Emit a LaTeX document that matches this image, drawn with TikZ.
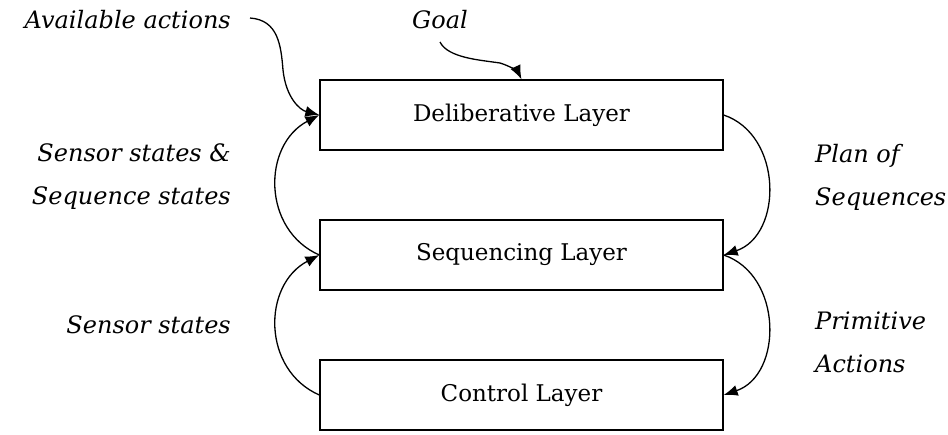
\documentclass[tikz,border=0pt]{standalone}
\usepackage{fontspec}
\setmainfont{DejaVu Serif}
\usetikzlibrary{arrows.meta}
\begin{document}
\begin{tikzpicture}[x=1pt,y=-1pt,
  layerbox/.style={draw, line width=1.3pt, minimum width=403pt, minimum height=70pt,
    inner sep=0pt, font=\fontsize{23}{27}\selectfont},
  lbl/.style={font=\fontsize{24}{43}\selectfont\itshape, inner sep=0pt},
  flow/.style={line width=1.3pt, -{Latex[length=14pt,width=11pt]}}
]
\useasboundingbox (0,0) rectangle (948,434);

% the three layers
\node[layerbox] (del) at (521.5,115) {Deliberative Layer};
\node[layerbox] (seq) at (521.5,255) {Sequencing Layer};
\node[layerbox] (ctl) at (521.5,395) {Control Layer};

% labels
\node[lbl, anchor=east] (avail) at (231,20) {Available actions};
\node[lbl] (goal) at (440,20) {Goal};
\node[lbl, anchor=east, align=right] (sss) at (231,177) {Sensor states \&\\Sequence states};
\node[lbl, anchor=east] (ss) at (231,325) {Sensor states};
\node[lbl, anchor=west, align=left] (plan) at (815,177) {Plan of\\Sequences};
\node[lbl, anchor=west, align=left] (prim) at (815,342) {Primitive\\Actions};

\coordinate (availend) at (250,18);
\coordinate (goalend) at (440,42);

% inputs from outside
\draw[flow] (availend) .. controls (278,20) and (281,45) .. (283,70)
  .. controls (286,98) and (300,110) .. (del.west);
\draw[flow] (goalend) .. controls (448,58) and (480,60) .. (500,63)
  .. controls (510,66) and (518,72) .. (del.north);

% feedback up the left side
\draw[flow] (ctl.west) .. controls (262,370) and (262,285) .. (seq.west);
\draw[flow] (seq.west) .. controls (262,230) and (262,145) .. (del.west);

% commands down the right side
\draw[flow] (del.east) .. controls (783,135) and (783,235) .. (seq.east);
\draw[flow] (seq.east) .. controls (783,275) and (783,375) .. (ctl.east);
\end{tikzpicture}
\end{document}
